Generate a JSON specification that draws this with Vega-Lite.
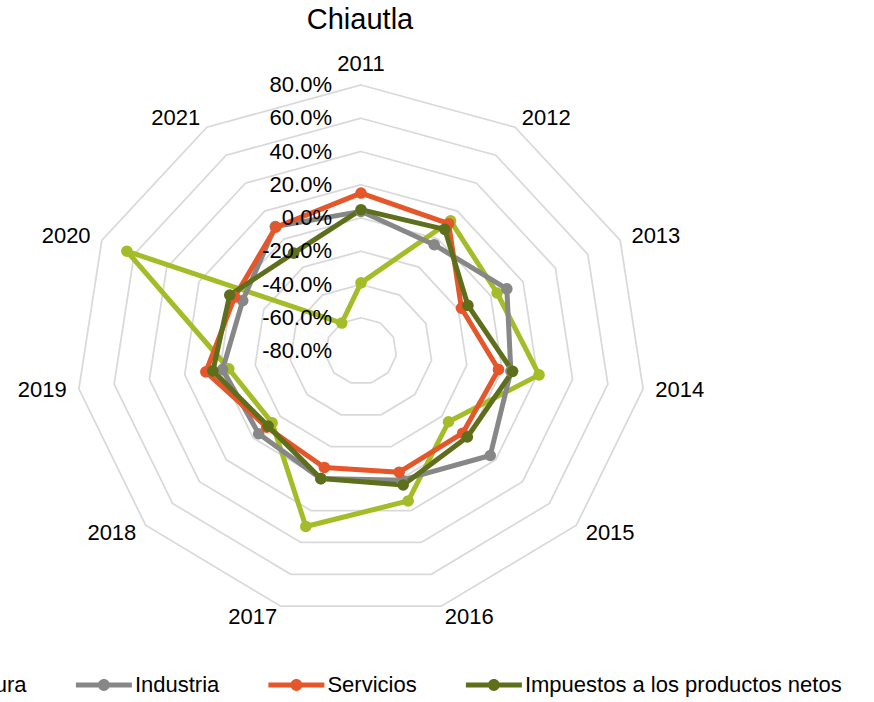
{
  "$schema": "https://vega.github.io/schema/vega-lite/v6.json",
  "width": 874,
  "height": 702,
  "autosize": {"type": "none"},
  "padding": 0,
  "background": "white",
  "config": {"view": {"stroke": null}, "font": "Liberation Sans"},
  "title": {"text": "Chiautla", "anchor": "middle", "frame": "group", "fontSize": 29, "fontWeight": "normal", "font": "Liberation Sans", "color": "#000000", "baseline": "alphabetic", "offset": -58, "dx": -77},
  "datasets": {
    "series": [
      {"series": "Agricultura", "year": 2011, "value": -0.39},
      {"series": "Agricultura", "year": 2012, "value": 0.13},
      {"series": "Agricultura", "year": 2013, "value": 0.04},
      {"series": "Agricultura", "year": 2014, "value": 0.21},
      {"series": "Agricultura", "year": 2015, "value": -0.15},
      {"series": "Agricultura", "year": 2016, "value": 0.14},
      {"series": "Agricultura", "year": 2017, "value": 0.30},
      {"series": "Agricultura", "year": 2018, "value": -0.14},
      {"series": "Agricultura", "year": 2019, "value": -0.05},
      {"series": "Agricultura", "year": 2020, "value": 0.645},
      {"series": "Agricultura", "year": 2021, "value": -0.60},
      {"series": "Industria", "year": 2011, "value": 0.04},
      {"series": "Industria", "year": 2012, "value": -0.04},
      {"series": "Industria", "year": 2013, "value": 0.10},
      {"series": "Industria", "year": 2014, "value": 0.05},
      {"series": "Industria", "year": 2015, "value": 0.16},
      {"series": "Industria", "year": 2016, "value": 0.01},
      {"series": "Industria", "year": 2017, "value": 0.0},
      {"series": "Industria", "year": 2018, "value": -0.04},
      {"series": "Industria", "year": 2019, "value": -0.015},
      {"series": "Industria", "year": 2020, "value": -0.07},
      {"series": "Industria", "year": 2021, "value": 0.09},
      {"series": "Servicios", "year": 2011, "value": 0.15},
      {"series": "Servicios", "year": 2012, "value": 0.11},
      {"series": "Servicios", "year": 2013, "value": -0.18},
      {"series": "Servicios", "year": 2014, "value": -0.02},
      {"series": "Servicios", "year": 2015, "value": -0.045},
      {"series": "Servicios", "year": 2016, "value": -0.04},
      {"series": "Servicios", "year": 2017, "value": -0.07},
      {"series": "Servicios", "year": 2018, "value": -0.10},
      {"series": "Servicios", "year": 2019, "value": 0.08},
      {"series": "Servicios", "year": 2020, "value": -0.02},
      {"series": "Servicios", "year": 2021, "value": 0.085},
      {"series": "Impuestos a los productos netos", "year": 2011, "value": 0.05},
      {"series": "Impuestos a los productos netos", "year": 2012, "value": 0.07},
      {"series": "Impuestos a los productos netos", "year": 2013, "value": -0.14},
      {"series": "Impuestos a los productos netos", "year": 2014, "value": 0.06},
      {"series": "Impuestos a los productos netos", "year": 2015, "value": -0.01},
      {"series": "Impuestos a los productos netos", "year": 2016, "value": 0.04},
      {"series": "Impuestos a los productos netos", "year": 2017, "value": 0.0},
      {"series": "Impuestos a los productos netos", "year": 2018, "value": -0.11},
      {"series": "Impuestos a los productos netos", "year": 2019, "value": 0.04},
      {"series": "Impuestos a los productos netos", "year": 2020, "value": 0.01},
      {"series": "Impuestos a los productos netos", "year": 2021, "value": -0.10}
    ],
    "rings": [
      {"level": -0.6, "year": [2011, 2012, 2013, 2014, 2015, 2016, 2017, 2018, 2019, 2020, 2021]},
      {"level": -0.4, "year": [2011, 2012, 2013, 2014, 2015, 2016, 2017, 2018, 2019, 2020, 2021]},
      {"level": -0.2, "year": [2011, 2012, 2013, 2014, 2015, 2016, 2017, 2018, 2019, 2020, 2021]},
      {"level": 0.0, "year": [2011, 2012, 2013, 2014, 2015, 2016, 2017, 2018, 2019, 2020, 2021]},
      {"level": 0.2, "year": [2011, 2012, 2013, 2014, 2015, 2016, 2017, 2018, 2019, 2020, 2021]},
      {"level": 0.4, "year": [2011, 2012, 2013, 2014, 2015, 2016, 2017, 2018, 2019, 2020, 2021]},
      {"level": 0.6, "year": [2011, 2012, 2013, 2014, 2015, 2016, 2017, 2018, 2019, 2020, 2021]},
      {"level": 0.8, "year": [2011, 2012, 2013, 2014, 2015, 2016, 2017, 2018, 2019, 2020, 2021]}
    ],
    "ticks": [
      {"level": 0.8, "label": "80.0%"},
      {"level": 0.6, "label": "60.0%"},
      {"level": 0.4, "label": "40.0%"},
      {"level": 0.2, "label": "20.0%"},
      {"level": 0.0, "label": "0.0%"},
      {"level": -0.2, "label": "-20.0%"},
      {"level": -0.4, "label": "-40.0%"},
      {"level": -0.6, "label": "-60.0%"},
      {"level": -0.8, "label": "-80.0%"}
    ],
    "years": [
      {"year": 2011}, {"year": 2012}, {"year": 2013}, {"year": 2014}, {"year": 2015}, {"year": 2016},
      {"year": 2017}, {"year": 2018}, {"year": 2019}, {"year": 2020}, {"year": 2021}
    ]
  },
  "encoding": {
    "x": {"field": "x", "type": "quantitative", "scale": {"domain": [-1.26667, 1.8], "nice": false, "zero": false}, "axis": null},
    "y": {"field": "y", "type": "quantitative", "scale": {"domain": [-1.31955, 1.31955], "nice": false, "zero": false}, "axis": null}
  },
  "layer": [
    {
      "data": {"name": "rings"},
      "transform": [
        {"flatten": ["year"]},
        {"calculate": "datum.year - 2011", "as": "idx"},
        {"calculate": "datum.idx * 2 * PI / 11", "as": "th"},
        {"calculate": "(datum.level + 0.8) / 1.6", "as": "r"},
        {"calculate": "datum.r * sin(datum.th)", "as": "x"},
        {"calculate": "datum.r * cos(datum.th)", "as": "y"}
      ],
      "mark": {"type": "line", "interpolate": "linear-closed", "stroke": "#D9D9D9", "strokeWidth": 1.75},
      "encoding": {
        "detail": {"field": "level", "type": "nominal"},
        "order": {"field": "idx", "type": "quantitative"}
      }
    },
    {
      "data": {"name": "series"},
      "transform": [
        {"calculate": "datum.year - 2011", "as": "idx"},
        {"calculate": "datum.idx * 2 * PI / 11", "as": "th"},
        {"calculate": "(datum.value + 0.8) / 1.6", "as": "r"},
        {"calculate": "datum.r * sin(datum.th)", "as": "x"},
        {"calculate": "datum.r * cos(datum.th)", "as": "y"}
      ],
      "encoding": {
        "color": {
          "field": "series",
          "type": "nominal",
          "scale": {
            "domain": ["Agricultura", "Industria", "Servicios", "Impuestos a los productos netos"],
            "range": ["#A4BC28", "#878787", "#E5562A", "#5E6F1B"]
          },
          "legend": {
            "title": null,
            "orient": "none",
            "legendX": -137.6,
            "legendY": 657,
            "direction": "horizontal",
            "columns": 4,
            "gridAlign": "each",
            "padding": 0,
            "columnPadding": 48.5,
            "labelOffset": 3,
            "labelFont": "Liberation Sans",
            "labelFontSize": 22,
            "labelColor": "#000000",
            "labelLimit": 0,
            "symbolType": "M-1,-0.09L1,-0.09L1,0.09L-1,0.09ZM0.21,0A0.21,0.21,0,1,1,-0.21,0A0.21,0.21,0,1,1,0.21,0Z",
            "symbolSize": 3136,
            "symbolStrokeWidth": 0,
            "encode": {
              "symbols": {
                "update": {
                  "fill": {"scale": "color", "field": "value"},
                  "stroke": {"value": "transparent"},
                  "strokeWidth": {"value": 0},
                  "opacity": {"value": 1}
                }
              }
            }
          }
        },
        "order": {"field": "idx", "type": "quantitative"}
      },
      "layer": [
        {"mark": {"type": "line", "interpolate": "linear-closed", "strokeWidth": 5, "strokeJoin": "round"}},
        {"mark": {"type": "point", "filled": true, "size": 135, "opacity": 1}}
      ]
    },
    {
      "data": {"name": "ticks"},
      "transform": [
        {"calculate": "(datum.level + 0.8) / 1.6", "as": "y"},
        {"calculate": "0", "as": "x"}
      ],
      "mark": {"type": "text", "align": "right", "baseline": "middle", "dx": -29, "fontSize": 22, "font": "Liberation Sans", "fill": "#000000"},
      "encoding": {
        "text": {"field": "label", "type": "nominal"}
      }
    },
    {
      "data": {"name": "years"},
      "transform": [
        {"calculate": "datum.year - 2011", "as": "idx"},
        {"calculate": "datum.idx * 2 * PI / 11", "as": "th"},
        {"calculate": "1.043 * sin(datum.th)", "as": "x"},
        {"calculate": "1.043 * cos(datum.th)", "as": "y"}
      ],
      "encoding": {
        "text": {"field": "year", "type": "nominal"}
      },
      "layer": [
        {
          "transform": [{"filter": "datum.idx == 0"}],
          "mark": {"type": "text", "align": "center", "baseline": "alphabetic", "dy": -3, "fontSize": 22, "font": "Liberation Sans", "color": "#000000"}
        },
        {
          "transform": [{"filter": "datum.idx >= 1 && datum.idx <= 5"}],
          "mark": {"type": "text", "align": "left", "baseline": "middle", "fontSize": 22, "font": "Liberation Sans", "color": "#000000"}
        },
        {
          "transform": [{"filter": "datum.idx >= 6"}],
          "mark": {"type": "text", "align": "right", "baseline": "middle", "fontSize": 22, "font": "Liberation Sans", "color": "#000000"}
        }
      ]
    }
  ]
}
